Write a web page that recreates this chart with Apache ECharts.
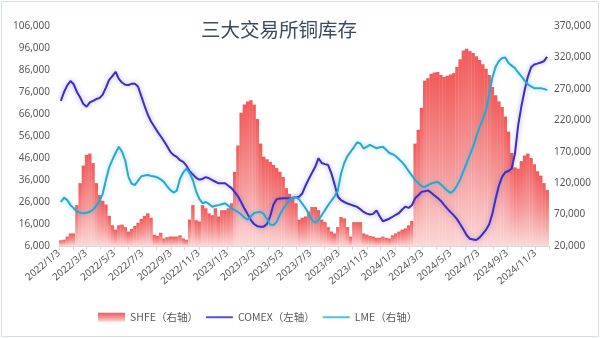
<!DOCTYPE html>
<html>
<head>
<meta charset="utf-8">
<script src="https://cdn.jsdelivr.net/npm/echarts@6/dist/echarts.min.js"></script>
<style>
  html, body { margin: 0; padding: 0; background: #fff; }
  #chart { width: 600px; height: 338px; }
</style>
</head>
<body>
<div id="chart"></div>
<script>
// Weekly copper inventories, first report week 2022/1/7 (tonnes; COMEX in short tons)
const firstWeek = '2022/1/7';

const shfe = [
  29000, 30000, 35000, 40000, 40000, 85000, 120000, 148000, 165000, 167000,
  152000, 120000, 101000, 92000, 86000, 68000, 53000, 46000, 53000, 54000,
  50000, 43000, 47000, 52000, 57000, 63000, 68000, 72000, 65000, 38000,
  36000, 41000, 32000, 34000, 35000, 35000, 35000, 37000, 32000, 30000,
  62000, 85000, 61000, 59000, 85000, 80000, 72000, 69000, 80000, 67000,
  77000, 77000, 80000, 88000, 138000, 180000, 232000, 245000, 250000, 252000,
  245000, 222000, 183000, 162000, 158000, 154000, 149000, 144000, 138000, 130000,
  112000, 103000, 95000, 88000, 62000, 65000, 67000, 75000, 82000, 82000,
  77000, 62000, 58000, 50000, 43000, 40000, 50000, 66000, 64000, 50000,
  35000, 58000, 58000, 58000, 40000, 38000, 36000, 35000, 33000, 33000,
  35000, 33000, 32000, 37000, 40000, 43000, 46000, 48000, 53000, 60000,
  183000, 205000, 240000, 283000, 287000, 294000, 296000, 297000, 292000, 289000,
  291000, 293000, 295000, 305000, 317000, 331000, 334000, 330000, 327000, 322000,
  316000, 309000, 302000, 292000, 273000, 260000, 250000, 241000, 226000, 202000,
  168000, 145000, 143000, 155000, 164000, 167000, 160000, 150000, 139000, 132000,
  120000, 109000
];

const comex = [
  72000, 76000, 79000, 81000, 79500, 76000, 73500, 70500, 69300, 71300,
  72000, 72800, 73200, 74800, 78000, 81500, 83200, 85200, 82000, 80300,
  79300, 79200, 79700, 79800, 78400, 74000, 69700, 65700, 62600, 60300,
  58000, 55900, 53700, 51300, 48800, 47300, 46500, 45000, 44200, 42500,
  40000, 38500, 37000, 36200, 36500, 37300, 36800, 35900, 35200, 34500,
  34500, 34500, 33400, 32300, 30500, 28600, 25900, 23000, 20400, 17800,
  16000, 15000, 14800, 14800, 16000, 19500, 24800, 27300, 27600, 27700,
  27700, 27700, 27900, 28200, 28400, 30000, 33500, 36500, 39300, 42000,
  45900, 43700, 43200, 42800, 39000, 34000, 28500, 26800, 26000, 25300,
  24800, 24300, 23800, 22700, 21500, 20700, 20300, 20600, 22200, 19500,
  17200, 17800, 18400, 19300, 20200, 21000, 22600, 23900, 23300, 24500,
  27700, 29100, 30600, 30900, 31300, 30200, 29000, 27800, 26500, 24700,
  23000, 21400, 19900, 18200, 15900, 13500, 10900, 9300, 9000, 8700,
  9800, 11500, 13300, 15900, 20700, 27500, 33400, 37400, 39500, 40100,
  41200, 48000, 60800, 69500, 76800, 82900, 87200, 88500, 88900, 89400,
  90000, 92000
];

const lme = [
  90000, 97000, 93000, 85000, 80000, 75000, 73000, 72000, 73000, 74500,
  78000, 84000, 92000, 103000, 125000, 145000, 157000, 168000, 178000, 170000,
  156000, 130000, 119000, 117000, 124000, 131000, 132000, 133000, 131500, 130500,
  129000, 126000, 122000, 115000, 109000, 105000, 108000, 127000, 137000, 143000,
  136000, 125000, 107000, 95000, 88000, 90000, 87000, 82500, 84000, 85000,
  86500, 88000, 84000, 80000, 77000, 74000, 70000, 65000, 62000, 67000,
  72500, 73500, 74500, 71000, 63000, 54000, 53400, 58000, 70000, 79000,
  86000, 94000, 97000, 98000, 94000, 87000, 80000, 71000, 61000, 57000,
  61500, 69000, 77000, 85000, 92000, 99000, 108000, 135000, 152000, 163000,
  170000, 177000, 185000, 183000, 175000, 178000, 181000, 178000, 175500, 177000,
  178000, 173000, 168000, 166000, 163000, 158000, 153000, 147000, 139000, 132000,
  125000, 120000, 115000, 114000, 117000, 119500, 121000, 122000, 118000, 113000,
  108000, 104500, 108000, 116000, 126000, 139000, 152000, 165000, 178000, 194000,
  209000, 221000, 236000, 261000, 288000, 305000, 314000, 319000, 320000, 311000,
  307000, 303000, 296000, 290000, 283000, 277000, 274000, 271000, 271000, 271000,
  270000, 268000
];

// Date axis tick labels (every second month) and value-axis label steps
const xTickLabels = [
  '2022/1/3', '2022/3/3', '2022/5/3', '2022/7/3', '2022/9/3', '2022/11/3',
  '2023/1/3', '2023/3/3', '2023/5/3', '2023/7/3', '2023/9/3', '2023/11/3',
  '2024/1/3', '2024/3/3', '2024/5/3', '2024/7/3', '2024/9/3', '2024/11/3'
];
const leftTicks = [6000, 16000, 26000, 36000, 46000, 56000, 66000, 76000, 86000, 96000, 106000];
const rightTicks = [20000, 70000, 120000, 170000, 220000, 270000, 320000, 370000];

const seriesNames = ['SHFE（右轴）', 'COMEX（左轴）', 'LME（右轴）'];
const titleText = '三大交易所铜库存';

// ---- date helpers: the x axis counts days from the axis start (UTC, no DST drift) ----
const DAY = 86400000;
const utc = s => { const p = s.split('/').map(Number); return Date.UTC(p[0], p[1] - 1, p[2]); };
const axisStartUTC = utc('2022/1/3');
const dayOf = s => Math.round((utc(s) - axisStartUTC) / DAY);
const dayToLabel = d => { const t = new Date(axisStartUTC + d * DAY); return t.getUTCFullYear() + '/' + (t.getUTCMonth() + 1) + '/' + t.getUTCDate(); };

const firstDay = dayOf(firstWeek);
const weekDays = shfe.map((_, i) => firstDay + 7 * i);
const pair = arr => arr.map((v, i) => [weekDays[i], v]);

const axisMax = dayOf('2024/12/3');
const monthTicks = [];
for (let m = 0; ; m++) {
  const d = Math.round((Date.UTC(2022, m, 3) - axisStartUTC) / DAY);
  if (d > axisMax) break;
  monthTicks.push(d);
}
const fmtThousands = v => String(v).replace(/\B(?=(\d{3})+(?!\d))/g, ',');

const labelColor = '#595959';
const numFont = 'Noto Sans';
const cjkFont = 'Noto Sans CJK SC';
const comexColor = '#3C2EC2';
const lmeColor = '#2AA6D3';

const chart = echarts.init(document.getElementById('chart'), null, { renderer: 'canvas' });
chart.setOption({
  animation: false,
  backgroundColor: '#ffffff',
  graphic: [{
    type: 'rect',
    shape: { x: 1.5, y: 1.5, width: 597, height: 335 },
    style: { fill: 'none', stroke: '#D5DEE8', lineWidth: 1 },
    silent: true
  }],
  title: {
    text: titleText,
    left: 196,
    top: 15,
    textStyle: { fontFamily: cjkFont, fontSize: 19.5, fontWeight: 'normal', color: '#3B4A5F' }
  },
  legend: {
    left: 93,
    top: 307,
    itemWidth: 27,
    itemHeight: 9,
    itemGap: 7,
    textStyle: { fontFamily: cjkFont, fontSize: 10.5, color: labelColor },
    data: [
      { name: seriesNames[0], icon: 'rect' },
      { name: seriesNames[1], itemStyle: { opacity: 0 }, lineStyle: { width: 2, color: '#5A4ED4' } },
      { name: seriesNames[2], itemStyle: { opacity: 0 }, lineStyle: { width: 2, color: '#4CC0E2' } }
    ]
  },
  grid: { left: 59, right: 51, top: 26, bottom: 92, outerBoundsMode: 'none', containLabel: false },
  xAxis: {
    type: 'value',
    min: 0,
    max: axisMax,
    splitLine: { show: false },
    axisLine: { show: true, onZero: false, lineStyle: { color: '#D9D9D9' } },
    axisTick: { show: true, length: 4, lineStyle: { color: '#D9D9D9' }, customValues: monthTicks },
    axisLabel: {
      customValues: xTickLabels.map(dayOf),
      formatter: v => dayToLabel(v),
      rotate: 40,
      margin: 6,
      color: labelColor,
      fontFamily: numFont,
      fontSize: 10,
      hideOverlap: false
    }
  },
  yAxis: [
    {
      type: 'value',
      min: 6000,
      max: 106000,
      position: 'left',
      splitLine: { show: false },
      axisLine: { show: false },
      axisTick: { show: false },
      axisLabel: { customValues: leftTicks, formatter: fmtThousands, color: labelColor, fontFamily: numFont, fontSize: 10, margin: 9 }
    },
    {
      type: 'value',
      min: 20000,
      max: 370000,
      position: 'right',
      splitLine: { show: false },
      axisLine: { show: false },
      axisTick: { show: false },
      axisLabel: { customValues: rightTicks, formatter: fmtThousands, color: labelColor, fontFamily: numFont, fontSize: 10, margin: 5 }
    }
  ],
  series: [
    {
      name: seriesNames[0],
      type: 'bar',
      yAxisIndex: 1,
      barWidth: 3.5,
      data: pair(shfe),
      itemStyle: {
        color: new echarts.graphic.LinearGradient(0, 0, 0, 1, [
          { offset: 0, color: '#F25A5A' },
          { offset: 0.55, color: '#F59898' },
          { offset: 1, color: '#FBD8D8' }
        ])
      },
      z: 1
    },
    {
      name: seriesNames[1],
      type: 'line',
      yAxisIndex: 0,
      symbol: 'none',
      data: pair(comex),
      lineStyle: { color: comexColor, width: 2, shadowBlur: 5, shadowColor: 'rgba(90,80,220,0.5)' },
      itemStyle: { color: comexColor },
      z: 3
    },
    {
      name: seriesNames[2],
      type: 'line',
      yAxisIndex: 1,
      symbol: 'none',
      data: pair(lme),
      lineStyle: { color: lmeColor, width: 2, shadowBlur: 5, shadowColor: 'rgba(60,190,230,0.5)' },
      itemStyle: { color: lmeColor },
      z: 4
    }
  ]
});
</script>
</body>
</html>
